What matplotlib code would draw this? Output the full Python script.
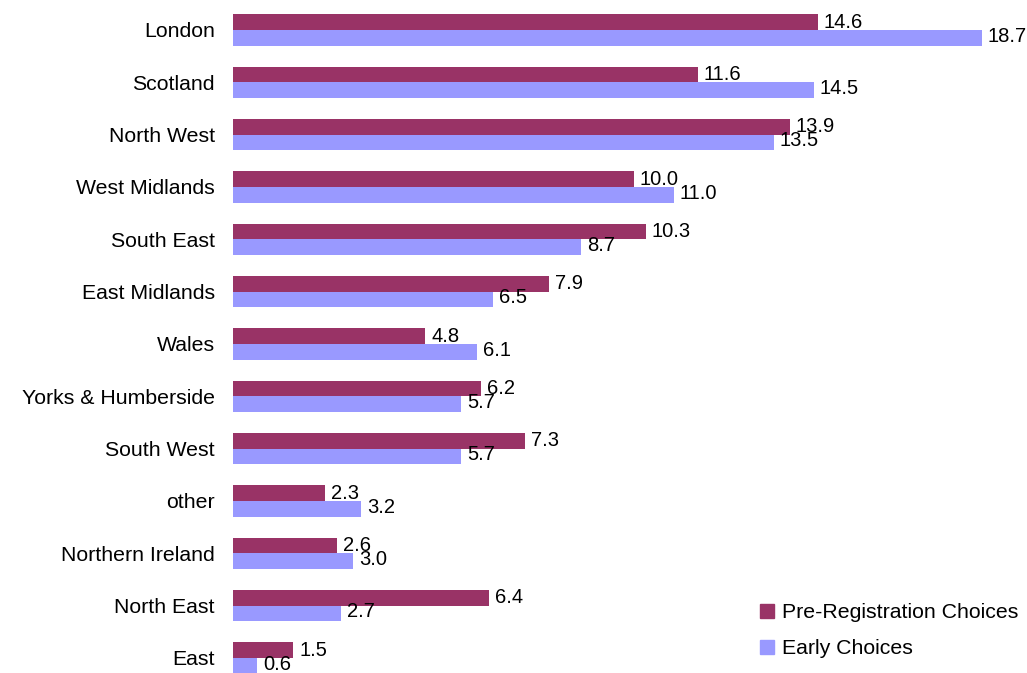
import numpy as np
import matplotlib
matplotlib.use("Agg")
import matplotlib.pyplot as plt
from matplotlib.patches import Patch

plt.rcParams['font.family'] = ['Liberation Sans', 'DejaVu Sans']

# Data (top to bottom as shown)
regions = ["London", "Scotland", "North West", "West Midlands", "South East",
           "East Midlands", "Wales", "Yorks & Humberside", "South West", "other",
           "Northern Ireland", "North East", "East"]
pre_reg = [14.6, 11.6, 13.9, 10.0, 10.3, 7.9, 4.8, 6.2, 7.3, 2.3, 2.6, 6.4, 1.5]
early = [18.7, 14.5, 13.5, 11.0, 8.7, 6.5, 6.1, 5.7, 5.7, 3.2, 3.0, 2.7, 0.6]

c_pre = "#993366"
c_early = "#9999FF"
fs = 14.5

W, H = 1027, 673
fig = plt.figure(figsize=(W / 100, H / 100), dpi=100)
ax = fig.add_axes([233 / W, 0, 1 - 233 / W, 1])

y = np.arange(len(regions))
h = 0.3
ax.barh(y - h / 2, pre_reg, height=h, color=c_pre)
ax.barh(y + h / 2, early, height=h, color=c_early)

for yi, v in zip(y, pre_reg):
    ax.text(v + 0.15, yi - h / 2, f"{v:.1f}", va="center", ha="left", fontsize=fs)
for yi, v in zip(y, early):
    ax.text(v + 0.15, yi + h / 2 - 0.03, f"{v:.1f}", va="center", ha="left", fontsize=fs)

ax.set_xlim(0, (W - 233) / 40.05)
ax.set_ylim(12.287, -0.573)
ax.set_yticks(y)
ax.set_yticklabels(regions, fontsize=15.3)
ax.tick_params(axis="y", length=0, pad=13)
ax.set_xticks([])
for s in ax.spines.values():
    s.set_visible(False)

handles = [Patch(color=c_pre, label="Pre-Registration Choices"),
           Patch(color=c_early, label="Early Choices")]
fig.legend(handles=handles, loc="upper left", bbox_to_anchor=(741 / W, 1 - 584 / H),
           frameon=False, fontsize=15.3, handlelength=0.65, handleheight=0.65,
           handletextpad=0.4, labelspacing=0.8)

fig.savefig("out.png", dpi=100)
